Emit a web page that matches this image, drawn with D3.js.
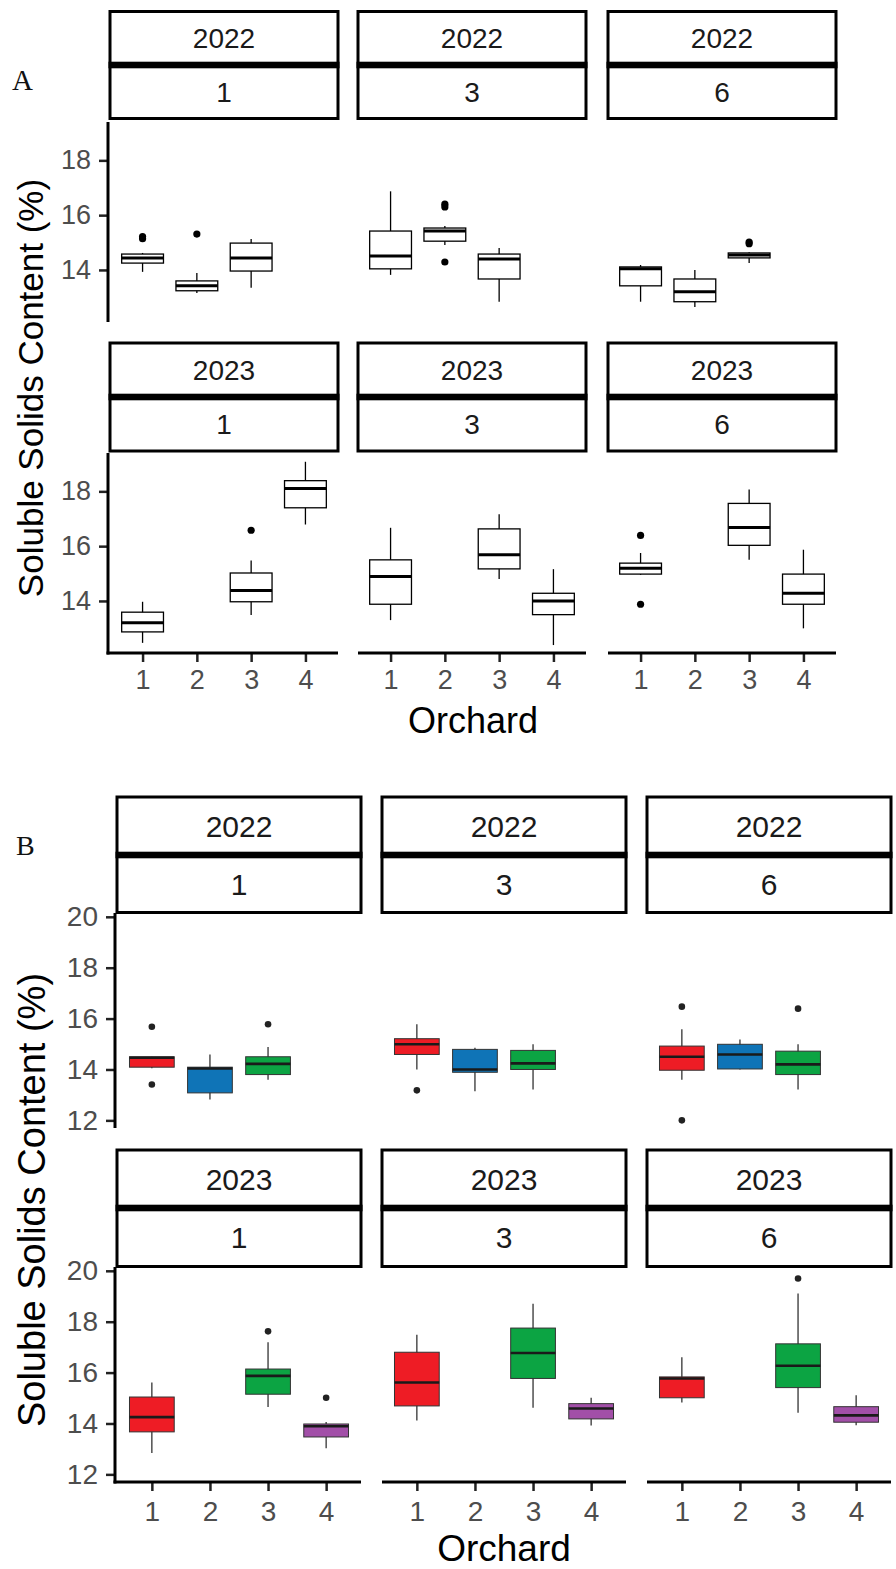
<!DOCTYPE html>
<html>
<head>
<meta charset="utf-8">
<script src="https://cdn.jsdelivr.net/npm/d3@7"></script>
<style>
  body { margin: 0; background: #fff; }
  svg { display: block; }
</style>
</head>
<body>
<svg id="chart" width="896" height="1569"></svg>
<script>
// facet labels and categories
const years = ["2022", "2023"];
const groups = ["1", "3", "6"];
const orchards = ["1", "2", "3", "4"];
const ticksA = [14, 16, 18];
const ticksB = [12, 14, 16, 18, 20];
const orchardColors = ["#ee1c25", "#0f74b7", "#0ca443", "#a24fa8"];

// box stats: whisker low, q1, median, q3, whisker high, outliers
const boxesA2022 = [
  {group: "1", orchard: "1", lo: 13.93, q1: 14.25, med: 14.44, q3: 14.58, hi: 14.62, out: [15.14, 15.22]},
  {group: "1", orchard: "2", lo: 13.16, q1: 13.24, med: 13.42, q3: 13.6, hi: 13.89, out: [15.31]},
  {group: "1", orchard: "3", lo: 13.35, q1: 13.96, med: 14.44, q3: 14.98, hi: 15.13, out: []},
  {group: "3", orchard: "1", lo: 13.82, q1: 14.04, med: 14.51, q3: 15.42, hi: 16.87, out: []},
  {group: "3", orchard: "2", lo: 14.91, q1: 15.05, med: 15.42, q3: 15.53, hi: 15.6, out: [16.3, 16.4, 14.29]},
  {group: "3", orchard: "3", lo: 12.84, q1: 13.67, med: 14.4, q3: 14.58, hi: 14.8, out: []},
  {group: "6", orchard: "1", lo: 12.84, q1: 13.42, med: 14.04, q3: 14.11, hi: 14.18, out: []},
  {group: "6", orchard: "2", lo: 12.65, q1: 12.84, med: 13.2, q3: 13.67, hi: 14.0, out: []},
  {group: "6", orchard: "3", lo: 14.25, q1: 14.44, med: 14.55, q3: 14.62, hi: 14.65, out: [14.96, 15.02]}
];
const boxesA2023 = [
  {group: "1", orchard: "1", lo: 12.47, q1: 12.87, med: 13.2, q3: 13.59, hi: 13.97, out: []},
  {group: "1", orchard: "3", lo: 13.49, q1: 13.97, med: 14.38, q3: 15.02, hi: 15.48, out: [16.58]},
  {group: "1", orchard: "4", lo: 16.79, q1: 17.4, med: 18.1, q3: 18.39, hi: 19.08, out: []},
  {group: "3", orchard: "1", lo: 13.3, q1: 13.88, med: 14.89, q3: 15.5, hi: 16.67, out: []},
  {group: "3", orchard: "3", lo: 14.8, q1: 15.17, med: 15.69, q3: 16.63, hi: 17.16, out: []},
  {group: "3", orchard: "4", lo: 12.39, q1: 13.5, med: 14.0, q3: 14.28, hi: 15.16, out: []},
  {group: "6", orchard: "1", lo: 14.95, q1: 14.98, med: 15.19, q3: 15.38, hi: 15.75, out: [16.39, 13.88]},
  {group: "6", orchard: "3", lo: 15.5, q1: 16.03, med: 16.68, q3: 17.56, hi: 18.07, out: []},
  {group: "6", orchard: "4", lo: 13.0, q1: 13.88, med: 14.28, q3: 14.98, hi: 15.87, out: []}
];
const boxesB2022 = [
  {group: "1", orchard: "1", lo: 14.05, q1: 14.09, med: 14.46, q3: 14.5, hi: 14.5, out: [15.68, 13.41]},
  {group: "1", orchard: "2", lo: 12.82, q1: 13.08, med: 14.04, q3: 14.09, hi: 14.59, out: []},
  {group: "1", orchard: "3", lo: 13.6, q1: 13.8, med: 14.22, q3: 14.5, hi: 14.88, out: [15.78]},
  {group: "3", orchard: "1", lo: 14.0, q1: 14.59, med: 14.99, q3: 15.21, hi: 15.78, out: [13.18]},
  {group: "3", orchard: "2", lo: 13.14, q1: 13.89, med: 14.0, q3: 14.79, hi: 14.85, out: []},
  {group: "3", orchard: "3", lo: 13.21, q1: 14.0, med: 14.24, q3: 14.75, hi: 14.99, out: []},
  {group: "6", orchard: "1", lo: 13.6, q1: 13.97, med: 14.5, q3: 14.92, hi: 15.58, out: [16.47, 12.0]},
  {group: "6", orchard: "2", lo: 14.0, q1: 14.02, med: 14.59, q3: 14.99, hi: 15.18, out: []},
  {group: "6", orchard: "3", lo: 13.21, q1: 13.8, med: 14.2, q3: 14.72, hi: 14.99, out: [16.39]}
];
const boxesB2023 = [
  {group: "1", orchard: "1", lo: 12.84, q1: 13.67, med: 14.25, q3: 15.04, hi: 15.61, out: []},
  {group: "1", orchard: "3", lo: 14.65, q1: 15.15, med: 15.87, q3: 16.14, hi: 17.19, out: [17.62]},
  {group: "1", orchard: "4", lo: 13.03, q1: 13.47, med: 13.89, q3: 13.98, hi: 14.06, out: [15.01]},
  {group: "3", orchard: "1", lo: 14.12, q1: 14.69, med: 15.61, q3: 16.8, hi: 17.49, out: []},
  {group: "3", orchard: "3", lo: 14.62, q1: 15.77, med: 16.77, q3: 17.75, hi: 18.71, out: []},
  {group: "3", orchard: "4", lo: 13.92, q1: 14.18, med: 14.59, q3: 14.78, hi: 15.01, out: []},
  {group: "6", orchard: "1", lo: 14.82, q1: 15.01, med: 15.77, q3: 15.83, hi: 16.6, out: []},
  {group: "6", orchard: "3", lo: 14.42, q1: 15.41, med: 16.27, q3: 17.13, hi: 19.11, out: [19.7]},
  {group: "6", orchard: "4", lo: 13.93, q1: 14.05, med: 14.32, q3: 14.66, hi: 15.11, out: []}
];

const svg = d3.select('#chart');
const FONT = '"Liberation Sans", Arial, sans-serif';

function drawFigure(cfg) {
  const fig = svg.append('g');

  // panel letter
  fig.append('text')
    .attr('x', cfg.letterX)
    .attr('y', cfg.letterY)
    .attr('font-family', '"Liberation Serif", serif')
    .attr('font-size', cfg.letterSize)
    .attr('fill', '#111')
    .text(cfg.letter);

  cfg.rows.forEach((row, ri) => {
    const y = d3.scaleLinear().domain(cfg.yDomain).range([row.plotBottom, row.plotTop]);
    const isBottom = ri === cfg.rows.length - 1;

    groups.forEach((grp, gi) => {
      const px = cfg.panelX[gi];
      const x = d3.scalePoint().domain(orchards).range([px, px + cfg.panelW]).padding(0.6);
      const bw = x.step() * 0.77;
      const panel = fig.append('g');

      // strips: year on top, group below
      panel.append('rect')
        .attr('x', px).attr('y', row.stripTop)
        .attr('width', cfg.panelW).attr('height', row.stripBottom - row.stripTop)
        .attr('fill', '#fff').attr('stroke', '#000').attr('stroke-width', 3);
      panel.append('rect')
        .attr('x', px - 1.5).attr('y', row.stripMid - 3.3)
        .attr('width', cfg.panelW + 3).attr('height', 6.6)
        .attr('fill', '#000');
      panel.append('text')
        .attr('x', px + cfg.panelW / 2)
        .attr('y', (row.stripTop + row.stripMid) / 2)
        .attr('dy', '0.36em')
        .attr('text-anchor', 'middle')
        .attr('font-family', FONT).attr('font-size', cfg.stripSize).attr('fill', '#1a1a1a')
        .text(row.year);
      panel.append('text')
        .attr('x', px + cfg.panelW / 2)
        .attr('y', (row.stripMid + row.stripBottom) / 2)
        .attr('dy', '0.36em')
        .attr('text-anchor', 'middle')
        .attr('font-family', FONT).attr('font-size', cfg.stripSize).attr('fill', '#1a1a1a')
        .text(grp);

      // y axis only in the first column
      if (gi === 0) {
        const ax = panel.append('g')
          .attr('transform', `translate(${px - 2},0)`)
          .call(d3.axisLeft(y).tickValues(cfg.ticks).tickSize(9).tickSizeOuter(0).tickPadding(8));
        ax.select('.domain').remove();
        ax.selectAll('line').attr('stroke', '#222').attr('stroke-width', 2.5);
        ax.selectAll('text').attr('font-family', FONT).attr('font-size', cfg.tickSize).attr('fill', '#4d4d4d');
        panel.append('line')
          .attr('x1', px - 2).attr('x2', px - 2)
          .attr('y1', row.plotTop).attr('y2', row.plotBottom + (isBottom ? 1.5 : 0))
          .attr('stroke', '#000').attr('stroke-width', 3);
      }

      // x axis only on the bottom row
      if (isBottom) {
        const ax = panel.append('g')
          .attr('transform', `translate(0,${row.plotBottom})`)
          .call(d3.axisBottom(x).tickSize(9).tickSizeOuter(0).tickPadding(cfg.xPad));
        ax.select('.domain').remove();
        ax.selectAll('line').attr('stroke', '#222').attr('stroke-width', 2.5);
        ax.selectAll('text').attr('font-family', FONT).attr('font-size', cfg.tickSize).attr('fill', '#4d4d4d');
        panel.append('line')
          .attr('x1', gi === 0 ? px - 3.5 : px).attr('x2', px + cfg.panelW)
          .attr('y1', row.plotBottom).attr('y2', row.plotBottom)
          .attr('stroke', '#000').attr('stroke-width', 3);
      }

      // boxes
      const boxes = panel.selectAll('g.box')
        .data(row.data.filter(d => d.group === grp))
        .join('g').attr('class', 'box');
      const edge = cfg.colored ? '#333' : '#000';
      boxes.append('line')
        .attr('x1', d => x(d.orchard)).attr('x2', d => x(d.orchard))
        .attr('y1', d => y(d.hi)).attr('y2', d => y(d.lo))
        .attr('stroke', edge).attr('stroke-width', 1.3);
      boxes.append('rect')
        .attr('x', d => x(d.orchard) - bw / 2)
        .attr('y', d => y(d.q3))
        .attr('width', bw)
        .attr('height', d => y(d.q1) - y(d.q3))
        .attr('fill', d => cfg.colored ? orchardColors[orchards.indexOf(d.orchard)] : '#fff')
        .attr('stroke', edge).attr('stroke-width', cfg.colored ? 1 : 1.3);
      boxes.append('line')
        .attr('x1', d => x(d.orchard) - bw / 2).attr('x2', d => x(d.orchard) + bw / 2)
        .attr('y1', d => y(d.med)).attr('y2', d => y(d.med))
        .attr('stroke', cfg.colored ? '#1a1a1a' : '#000').attr('stroke-width', cfg.colored ? 2.6 : 3);
      boxes.selectAll('circle')
        .data(d => d.out.map(v => ({orchard: d.orchard, v: v})))
        .join('circle')
        .attr('cx', d => x(d.orchard))
        .attr('cy', d => y(d.v))
        .attr('r', cfg.dotR)
        .attr('fill', cfg.colored ? '#222' : '#000');
    });
  });

  // axis titles
  fig.append('text')
    .attr('transform', `translate(${cfg.yTitleX},${cfg.yTitleY}) rotate(-90)`)
    .attr('text-anchor', 'middle')
    .attr('font-family', FONT).attr('font-size', cfg.yTitleSize).attr('fill', '#000')
    .text('Soluble Solids Content (%)');
  fig.append('text')
    .attr('x', cfg.panelX[0] + (cfg.panelX[2] + cfg.panelW - cfg.panelX[0]) / 2)
    .attr('y', cfg.xTitleY)
    .attr('text-anchor', 'middle')
    .attr('font-family', FONT).attr('font-size', cfg.xTitleSize).attr('fill', '#000')
    .text('Orchard');
}

drawFigure({
  letter: 'A', letterX: 12, letterY: 90, letterSize: 29,
  panelX: [110, 358, 608], panelW: 228,
  yDomain: [12.1, 19.4], ticks: ticksA,
  colored: false, dotR: 3.6,
  tickSize: 27, stripSize: 28, yTitleSize: 35, xTitleSize: 36, xPad: 8,
  yTitleX: 43, yTitleY: 388, xTitleY: 733,
  rows: [
    {year: years[0], data: boxesA2022, stripTop: 11.5, stripMid: 65, stripBottom: 118.5, plotTop: 122, plotBottom: 322},
    {year: years[1], data: boxesA2023, stripTop: 343, stripMid: 397, stripBottom: 451, plotTop: 453, plotBottom: 653}
  ]
});

drawFigure({
  letter: 'B', letterX: 16, letterY: 855, letterSize: 28,
  panelX: [117, 382, 647], panelW: 244,
  yDomain: [11.7, 20.15], ticks: ticksB,
  colored: true, dotR: 3.3,
  tickSize: 28, stripSize: 30, yTitleSize: 38, xTitleSize: 37, xPad: 10,
  yTitleX: 45, yTitleY: 1200, xTitleY: 1561,
  rows: [
    {year: years[0], data: boxesB2022, stripTop: 797, stripMid: 855, stripBottom: 912.5, plotTop: 913, plotBottom: 1128},
    {year: years[1], data: boxesB2023, stripTop: 1150, stripMid: 1208, stripBottom: 1266.5, plotTop: 1267, plotBottom: 1482}
  ]
});
</script>
</body>
</html>
